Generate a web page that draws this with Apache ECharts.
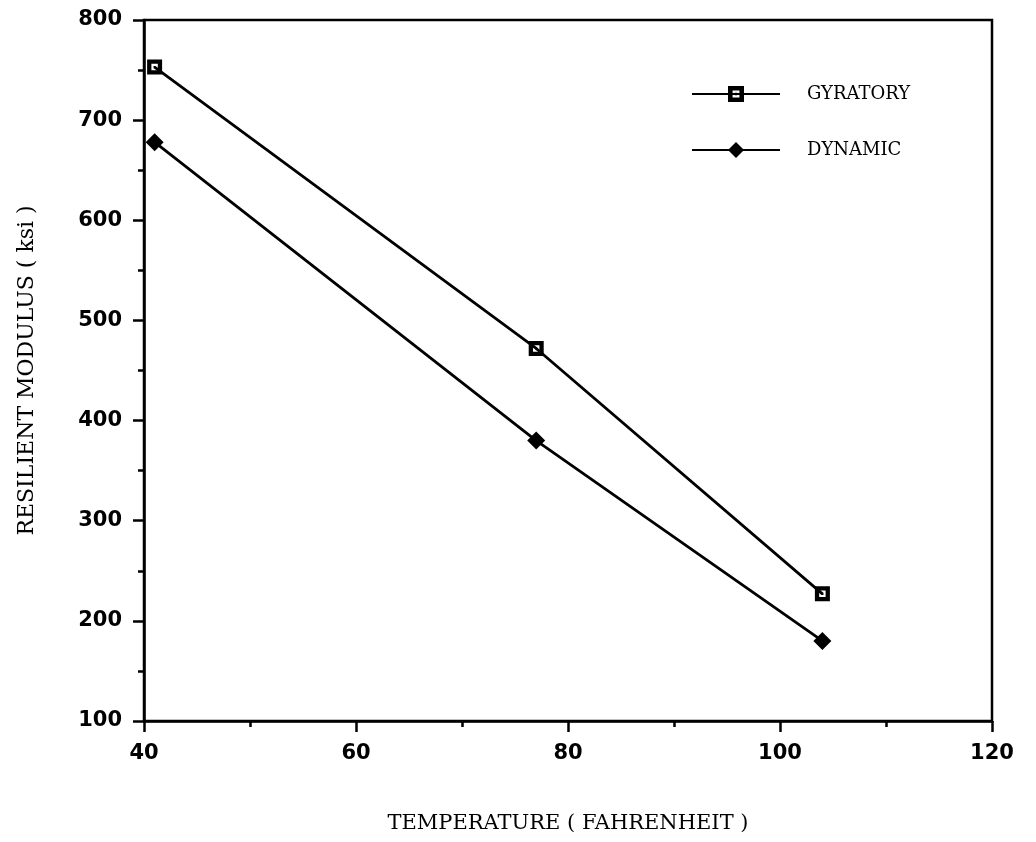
<!DOCTYPE html>
<html>
<head>
<meta charset="utf-8">
<script src="https://cdn.jsdelivr.net/npm/echarts@6/dist/echarts.min.js"></script>
<style>
  html, body { margin: 0; padding: 0; background: #fff; }
  #chart { width: 1036px; height: 842px; }
</style>
</head>
<body>
<div id="chart"></div>
<script>
// temperatures (F) and moduli (ksi)
const temperature = [41, 77, 104]
const gyratory = [753, 472, 227]
const dynamic = [678, 380, 180]
const seriesNames = ['GYRATORY', 'DYNAMIC']

// square with a hollow centre and a dot in the middle
const hollowSquare = 'path://M0,0H14V14H0Z M4,4V10H10V4Z M6,6H8V8H6Z'

const chart = echarts.init(document.getElementById('chart'))

const axisText = {
  color: '#000',
  fontFamily: 'DejaVu Sans',
  fontWeight: 'bold',
  fontSize: 21
}
const titleText = { color: '#000', fontFamily: 'DejaVu Serif', fontSize: 21 }

let option = {
  animation: false,
  grid: {
    left: 144,
    right: 44,
    top: 20,
    bottom: 121,
    show: true,
    borderColor: '#000',
    borderWidth: 2.5
  },
  legend: {
    orient: 'vertical',
    left: 686,
    top: 80,
    itemWidth: 88,
    itemHeight: 20,
    itemGap: 38,
    data: seriesNames,
    textStyle: {
      color: '#000',
      fontFamily: 'DejaVu Serif',
      fontSize: 18,
      padding: [0, 0, 0, 22]
    }
  },
  xAxis: {
    type: 'value',
    min: 40,
    max: 120,
    interval: 20,
    name: 'TEMPERATURE ( FAHRENHEIT )',
    nameLocation: 'middle',
    nameGap: 92,
    nameTextStyle: titleText,
    splitLine: { show: false },
    axisLine: { lineStyle: { color: '#000', width: 2.5 } },
    axisTick: { length: 11, lineStyle: { color: '#000', width: 2.5 } },
    minorTick: { show: true, splitNumber: 2, length: 6, lineStyle: { color: '#000', width: 2.5 } },
    axisLabel: Object.assign({ margin: 22 }, axisText)
  },
  yAxis: {
    type: 'value',
    min: 100,
    max: 800,
    interval: 100,
    name: 'RESILIENT MODULUS ( ksi )',
    nameLocation: 'middle',
    nameGap: 106,
    nameTextStyle: Object.assign({}, titleText, { fontSize: 22 }),
    splitLine: { show: false },
    axisLine: { lineStyle: { color: '#000', width: 2.5 } },
    axisTick: { length: 11, lineStyle: { color: '#000', width: 2.5 } },
    minorTick: { show: true, splitNumber: 2, length: 6, lineStyle: { color: '#000', width: 2.5 } },
    axisLabel: Object.assign({ margin: 22 }, axisText)
  },
  series: [
    {
      name: seriesNames[0],
      type: 'line',
      data: temperature.map((t, i) => [t, gyratory[i]]),
      symbol: hollowSquare,
      symbolSize: 15,
      color: '#000',
      lineStyle: { color: '#000', width: 2.8 },
      itemStyle: { color: '#000' }
    },
    {
      name: seriesNames[1],
      type: 'line',
      data: temperature.map((t, i) => [t, dynamic[i]]),
      symbol: 'diamond',
      symbolSize: 18,
      color: '#000',
      lineStyle: { color: '#000', width: 2.8 },
      itemStyle: { color: '#000' }
    }
  ]
}
chart.setOption(option)
</script>
</body>
</html>
